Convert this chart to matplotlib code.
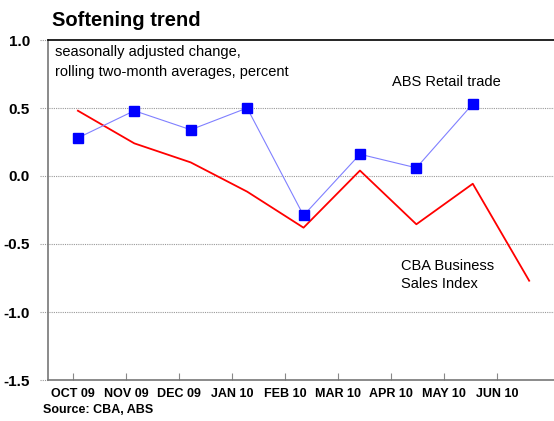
import matplotlib
matplotlib.use('Agg')
import matplotlib.pyplot as plt
import numpy as np

plt.rcParams['font.family'] = ['Liberation Sans', 'DejaVu Sans']

months = ['OCT 09', 'NOV 09', 'DEC 09', 'JAN 10', 'FEB 10', 'MAR 10', 'APR 10', 'MAY 10', 'JUN 10']
abs_retail = [0.28, 0.48, 0.34, 0.50, -0.29, 0.16, 0.06, 0.53]
cba_sales = [0.48, 0.24, 0.10, -0.115, -0.38, 0.04, -0.355, -0.057, -0.77]
yticks = [1.0, 0.5, 0.0, -0.5, -1.0, -1.5]

fig = plt.figure(figsize=(5.54, 4.21), dpi=100)
ax = fig.add_axes([48/554, 1 - 380/421, 506/554, 340/421])

x_abs = np.arange(len(abs_retail))
x_cba = np.arange(len(cba_sales))
ax.plot(x_cba, cba_sales, color='#ff0000', lw=1.3, zorder=3)
ax.plot(x_abs, abs_retail, color='#8080ff', lw=0.8, marker='s', ms=7,
        mfc='#0000ff', mec='#0000ff', zorder=4)

ax.set_xlim(-0.53, 8.44)
ax.set_ylim(-1.5, 1.0)

# tick marks in the source sit slightly off the data points
tick_pos = np.linspace(-0.09, 7.43, len(months))
ax.set_xticks(tick_pos)
ax.set_xticklabels(months, fontsize=9, fontweight='bold')
ax.tick_params(axis='x', direction='in', length=5, color='#888888', pad=6)

ax.set_yticks(yticks)
ax.set_yticklabels(['%.1f' % v for v in yticks], fontsize=11, fontweight='bold')
ax.tick_params(axis='y', length=0, pad=13)

for v in yticks[1:-1]:
    ax.axhline(v, xmin=-0.016, xmax=1, color='#999999', lw=0.8, ls=(0, (1, 1)),
               clip_on=False, zorder=1)
ax.axhline(-1.5, xmin=-0.016, xmax=0, color='#999999', lw=0.8, ls=(0, (1, 1)), clip_on=False)
ax.axhline(1.0, xmin=-0.016, xmax=0, color='#999999', lw=0.8, ls=(0, (1, 1)), clip_on=False)

ax.spines['right'].set_visible(False)
ax.spines['top'].set_color('black')
ax.spines['top'].set_linewidth(1.2)
ax.spines['left'].set_color('#777777')
ax.spines['left'].set_linewidth(1.2)
ax.spines['bottom'].set_color('#777777')
ax.spines['bottom'].set_linewidth(1.2)

fig.text(52/554, 1 - 21/421, 'Softening trend', fontsize=14.5, fontweight='bold', va='center')
fig.text(55/554, 1 - 52/421, 'seasonally adjusted change,', fontsize=10.5, va='center')
fig.text(55/554, 1 - 72/421, 'rolling two-month averages, percent', fontsize=10.5, va='center')
fig.text(392/554, 1 - 82/421, 'ABS Retail trade', fontsize=10.5, va='center')
fig.text(401/554, 1 - 266/421, 'CBA Business', fontsize=10.5, va='center')
fig.text(401/554, 1 - 284/421, 'Sales Index', fontsize=10.5, va='center')
fig.text(43/554, 1 - 410/421, 'Source: CBA, ABS', fontsize=9, fontweight='bold', va='center')

fig.savefig('out.png', dpi=100)
